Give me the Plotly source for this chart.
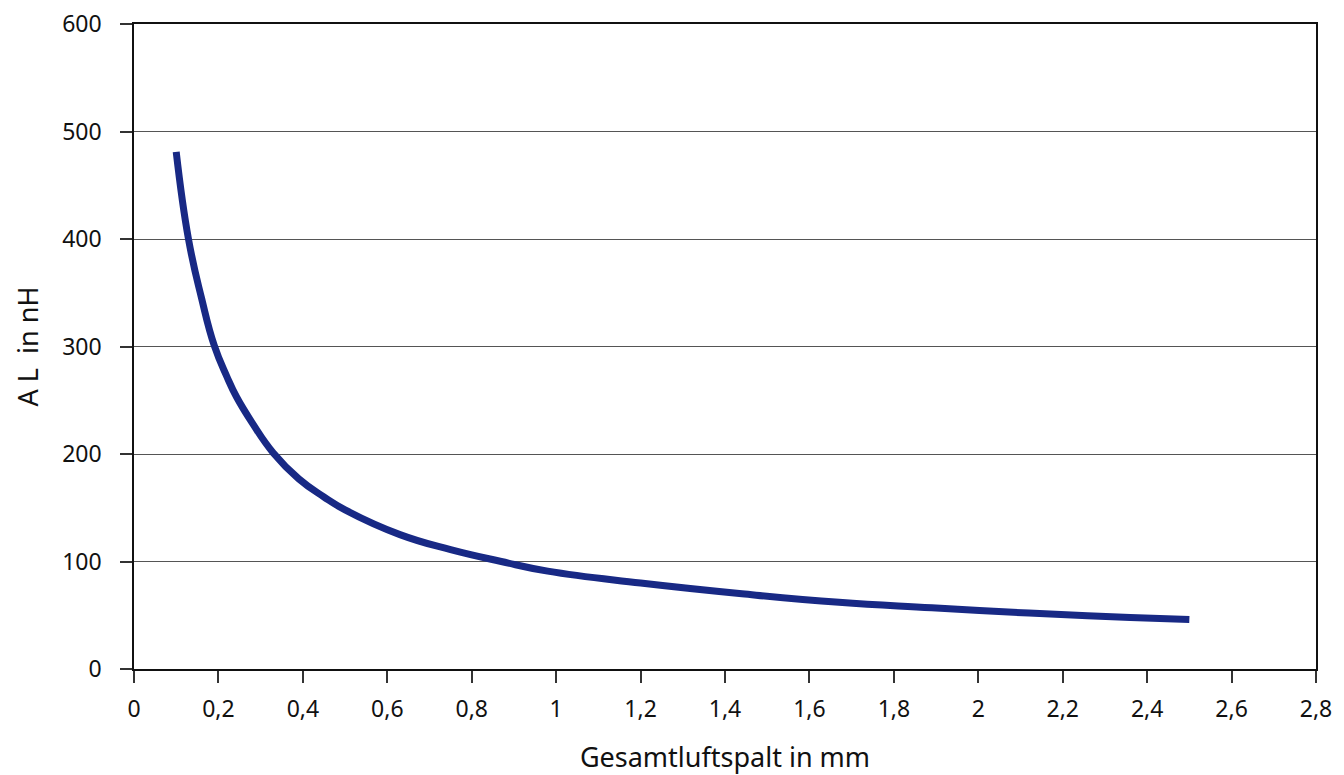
import plotly.graph_objects as go

# Data
gap_mm = [0.10, 0.129, 0.16, 0.19, 0.22, 0.243, 0.28, 0.33, 0.39, 0.45, 0.50,
          0.63, 0.75, 0.87, 0.98, 1.20, 1.44, 1.67, 1.89, 2.12, 2.36, 2.50]
al_nh = [481, 400, 345, 301, 272, 253, 229, 201, 177, 160, 148,
         125, 111, 100, 91, 80, 70, 62, 57, 52, 48, 46]

x_tickvals = [0, 0.2, 0.4, 0.6, 0.8, 1.0, 1.2, 1.4, 1.6, 1.8, 2.0, 2.2, 2.4, 2.6, 2.8]
x_ticktext = ["0", "0,2", "0,4", "0,6", "0,8", "1", "1,2", "1,4", "1,6", "1,8",
              "2", "2,2", "2,4", "2,6", "2,8"]
y_tickvals = [0, 100, 200, 300, 400, 500, 600]

font_family = "Noto Sans"

fig = go.Figure()
fig.add_trace(go.Scatter(
    x=gap_mm, y=al_nh, mode="lines",
    line=dict(color="#182985", width=7, shape="spline", smoothing=1.3),
    showlegend=False, hoverinfo="x+y",
))

fig.update_layout(
    width=1344, height=775,
    margin=dict(l=134, r=28, t=24, b=106),
    plot_bgcolor="white", paper_bgcolor="white",
    font=dict(family=font_family, size=23, color="#111111"),
    showlegend=False,
)

fig.update_xaxes(
    range=[0, 2.8], tickvals=x_tickvals, ticktext=x_ticktext,
    automargin=False, ticklabelstandoff=7, ticklabeloverflow="allow",
    showline=True, linecolor="#111111", linewidth=1.5, mirror=True,
    ticks="outside", ticklen=12, tickcolor="#333333", tickwidth=1.5,
    showgrid=False, zeroline=False,
    title=dict(text="Gesamtluftspalt in mm", font=dict(size=27), standoff=31),
)
fig.update_yaxes(
    range=[0, 600], tickvals=y_tickvals,
    automargin=False, ticklabelstandoff=14, ticklabeloverflow="allow",
    showline=True, linecolor="#111111", linewidth=1.5, mirror=True,
    ticks="outside", ticklen=12, tickcolor="#333333", tickwidth=1.5,
    showgrid=True, gridcolor="#555555", gridwidth=1.2, zeroline=False,
    title=dict(text="A L  in nH", font=dict(size=27), standoff=16),
)

# remove the default 8px page margin so the figure fills the window exactly
fig.write_html("out.html", config={"displayModeBar": False},
               post_script="document.body.style.margin='0';")
